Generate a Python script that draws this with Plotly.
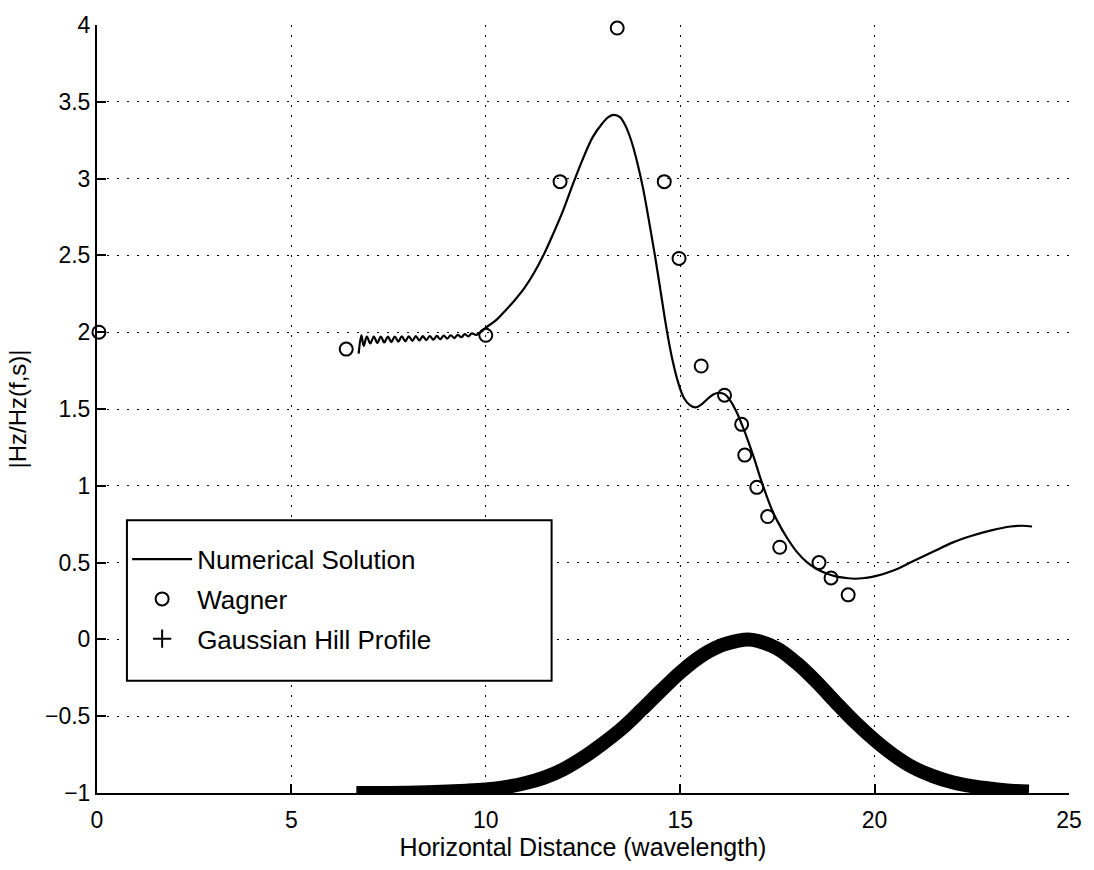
import plotly.graph_objects as go

# Numerical solution |Hz/Hz(f,s)| along the path (x in wavelengths)
num_x = [6.73, 6.80, 6.86, 6.94, 7.03, 7.12, 7.21, 7.30, 7.39, 7.48, 7.57, 7.66,
         7.75, 7.84, 7.93, 8.02, 8.11, 8.20, 8.29, 8.38, 8.47, 8.56, 8.65, 8.74,
         8.83, 8.92, 9.01, 9.10, 9.19, 9.28, 9.37, 9.46, 9.55, 9.64, 9.75, 9.87,
         10.0, 10.25, 10.5, 10.75, 11.0, 11.25, 11.5, 11.75, 12.0, 12.25, 12.5,
         12.75, 13.0, 13.15, 13.3, 13.45, 13.6, 13.75, 13.9, 14.05, 14.2, 14.35,
         14.5, 14.65, 14.8, 14.95, 15.1, 15.25, 15.4, 15.55, 15.7, 15.85, 16.0,
         16.15, 16.3, 16.45, 16.6, 16.75, 16.9, 17.05, 17.2, 17.35, 17.5, 17.75,
         18.0, 18.25, 18.5, 18.75, 19.0, 19.25, 19.5, 19.75, 20.0, 20.5, 21.0,
         21.5, 22.0, 22.5, 23.0, 23.5, 23.8, 24.05]
num_y = [1.86, 1.98, 1.91, 1.972, 1.927, 1.972, 1.930, 1.972, 1.933, 1.972,
         1.936, 1.972, 1.939, 1.973, 1.941, 1.973, 1.944, 1.974, 1.946, 1.974,
         1.949, 1.975, 1.951, 1.976, 1.954, 1.978, 1.958, 1.980, 1.962, 1.983,
         1.967, 1.987, 1.973, 1.992, 1.982, 2.00,
         2.03, 2.075, 2.14, 2.21, 2.29, 2.39, 2.51, 2.65, 2.80, 2.97, 3.13,
         3.27, 3.36, 3.40, 3.415, 3.40, 3.34, 3.24, 3.10, 2.93, 2.72, 2.50,
         2.26, 2.02, 1.82, 1.67, 1.57, 1.525, 1.51, 1.53, 1.565, 1.595, 1.605,
         1.595, 1.55, 1.48, 1.39, 1.29, 1.18, 1.06, 0.95, 0.85, 0.77, 0.66,
         0.57, 0.505, 0.46, 0.43, 0.41, 0.40, 0.395, 0.40, 0.41, 0.45, 0.51,
         0.57, 0.63, 0.675, 0.71, 0.735, 0.74, 0.735]

# Wagner reference values
wag_x = [0.05, 6.41, 10.0, 11.91, 13.38, 14.59, 14.97, 15.54, 16.14, 16.58,
         16.66, 16.97, 17.25, 17.56, 18.57, 18.88, 19.32]
wag_y = [2.0, 1.89, 1.98, 2.98, 3.98, 2.98, 2.48, 1.78, 1.59, 1.40,
         1.20, 0.99, 0.80, 0.60, 0.50, 0.40, 0.29]

# Gaussian hill profile (offset to -1)
hill_x = [6.67, 7.5, 8.5, 9.5, 10.0, 10.5, 11.0, 11.5, 12.0, 12.5, 13.0, 13.5,
          14.0, 14.5, 15.0, 15.5, 16.0, 16.5, 16.75, 17.0, 17.5, 18.0, 18.5,
          19.0, 19.5, 20.0, 20.5, 21.0, 21.5, 22.0, 22.5, 23.0, 23.5, 23.97]
hill_y = [-1.0, -1.0, -0.995, -0.985, -0.977, -0.962, -0.937, -0.9, -0.845,
          -0.77, -0.68, -0.58, -0.46, -0.335, -0.215, -0.115, -0.045, -0.008,
          0.0, -0.01, -0.06, -0.155, -0.275, -0.41, -0.54, -0.655, -0.755,
          -0.835, -0.89, -0.93, -0.955, -0.972, -0.985, -0.99]

x_ticks = [0, 5, 10, 15, 20, 25]
y_ticks = [-1, -0.5, 0, 0.5, 1, 1.5, 2, 2.5, 3, 3.5, 4]

FONT = "Liberation Sans, Arial, Helvetica, sans-serif"

fig = go.Figure()

fig.add_trace(go.Scatter(
    x=num_x, y=num_y, mode="lines", name="Numerical Solution",
    line=dict(color="black", width=2.2, shape="spline", smoothing=1.0),
    legendgroup="a",
))
fig.add_trace(go.Scatter(
    x=wag_x, y=wag_y, mode="markers", name="Wagner",
    marker=dict(symbol="circle-open", size=13, color="black", line=dict(width=2)),
    cliponaxis=False, legendgroup="b",
))
fig.add_trace(go.Scatter(
    x=hill_x, y=hill_y, mode="lines", showlegend=False,
    line=dict(color="black", width=14, shape="spline", smoothing=1.0),
))
# legend entry for the hill profile, drawn with '+' markers
fig.add_trace(go.Scatter(
    x=[None], y=[None], mode="markers", name="Gaussian Hill Profile",
    marker=dict(symbol="cross-thin-open", size=13, color="black",
                line=dict(width=2, color="black")),
    legendgroup="c",
))

axis_common = dict(
    showgrid=True, gridcolor="black", gridwidth=1.3, griddash="2px,8px",
    zeroline=False, showline=True, linecolor="black", linewidth=2,
    ticks="inside", ticklen=9, tickwidth=2, tickcolor="black",
    tickfont=dict(family=FONT, size=23, color="black"),
    mirror=False,
)

fig.update_xaxes(
    range=[0, 25], tickvals=x_ticks, ticktext=[str(v) for v in x_ticks],
    ticklabelstandoff=5,
    title=dict(text="Horizontal Distance (wavelength)",
               font=dict(family=FONT, size=25, color="black"), standoff=6),
    **axis_common,
)
fig.update_yaxes(
    range=[-1, 4], tickvals=y_ticks,
    ticktext=["\u22121", "\u22120.5", "0", "0.5", "1", "1.5", "2", "2.5", "3", "3.5", "4"],
    title=dict(text="|Hz/Hz(f,s)|", font=dict(family=FONT, size=24, color="black"),
               standoff=12),
    **axis_common,
)

# legend frame
fig.add_shape(type="rect", xref="paper", yref="paper",
              x0=0.0308, x1=0.4677, y0=0.146, y1=0.3553,
              fillcolor="white", line=dict(color="black", width=2), layer="above")

fig.update_layout(
    width=1094, height=870,
    margin=dict(l=97, r=22, t=19, b=77),
    paper_bgcolor="white", plot_bgcolor="white",
    font=dict(family=FONT, color="black"),
    showlegend=True,
    legend=dict(
        x=0.031, y=0.335, xanchor="left", yanchor="top",
        bgcolor="rgba(0,0,0,0)", borderwidth=0,
        font=dict(family=FONT, size=26, color="black"),
        traceorder="grouped", tracegroupgap=3, itemwidth=60,
    ),
)

fig.write_html("out.html")
